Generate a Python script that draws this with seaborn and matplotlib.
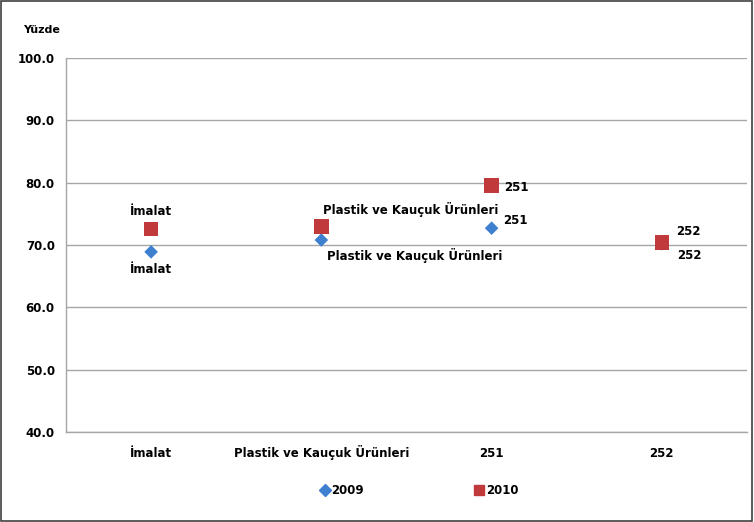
import matplotlib
matplotlib.use("Agg")
import matplotlib.pyplot as plt
from matplotlib.patches import Rectangle
from matplotlib.lines import Line2D
import seaborn as sns
import pandas as pd

categories = ["İmalat", "Plastik ve Kauçuk Ürünleri", "251", "252"]
values_2009 = [68.9, 70.8, 72.7, 70.2]
values_2010 = [72.6, 73.0, 79.5, 70.4]
years = ["2009", "2010"]

df = pd.DataFrame({
    "kategori": categories * 2,
    "deger": values_2009 + values_2010,
    "yil": [years[0]] * 4 + [years[1]] * 4,
})

sns.set_theme(style="white")
plt.rcParams["font.family"] = ["DejaVu Sans"]
plt.rcParams["font.weight"] = "bold"
plt.rcParams["text.color"] = "black"
plt.rcParams["xtick.color"] = "black"
plt.rcParams["ytick.color"] = "black"

fig = plt.figure(figsize=(7.54, 5.22), dpi=100)
ax = fig.add_axes([0.0875, 0.1724, 0.9032, 0.7165])

colors = {"2009": "#3F7FD0", "2010": "#C0393B"}
markers = {"2009": "D", "2010": "s"}
sizes = {"2009": 48, "2010": 110}
for y in years:
    sub = df[df["yil"] == y]
    sns.scatterplot(data=sub, x="kategori", y="deger", ax=ax, color=colors[y],
                    marker=markers[y], s=sizes[y], edgecolor="none", legend=False, zorder=3)

fs = 8.5
ax.set_xlim(-0.5, 3.5)
ax.set_ylim(40, 100)
ax.set_yticks([40, 50, 60, 70, 80, 90, 100])
ax.set_yticklabels([f"{v:.1f}" for v in [40, 50, 60, 70, 80, 90, 100]], fontsize=fs, fontweight="bold")
ax.set_xticks(range(4))
ax.set_xticklabels(categories, fontsize=fs, fontweight="bold")
ax.set_xlabel("")
ax.set_ylabel("")
ax.grid(axis="y", color="#A6A6A6", linewidth=1)
ax.set_axisbelow(True)
for s in ["top", "right"]:
    ax.spines[s].set_visible(False)
for s in ["left", "bottom"]:
    ax.spines[s].set_color("#A6A6A6")
    ax.spines[s].set_linewidth(1)
ax.tick_params(axis="y", length=5, color="#A6A6A6", pad=3, labelcolor="black")
ax.tick_params(axis="x", length=0, pad=18, labelcolor="black")
for lbl in ax.get_xticklabels():
    lbl.set_verticalalignment("baseline")

# data labels 2010
ax.annotate(categories[0], (0, values_2010[0]), xytext=(0, 8), textcoords="offset points",
            ha="center", va="bottom", fontsize=fs, fontweight="bold")
ax.annotate(categories[1], (1, values_2010[1]), xytext=(1, 7), textcoords="offset points",
            ha="left", va="bottom", fontsize=fs, fontweight="bold")
ax.annotate(categories[2], (2, values_2010[2]), xytext=(9, -1), textcoords="offset points",
            ha="left", va="center", fontsize=fs, fontweight="bold")
ax.annotate(categories[3], (3, values_2010[3]), xytext=(10, 3), textcoords="offset points",
            ha="left", va="bottom", fontsize=fs, fontweight="bold")
# data labels 2009
ax.annotate(categories[0], (0, values_2009[0]), xytext=(0, -8), textcoords="offset points",
            ha="center", va="top", fontsize=fs, fontweight="bold")
ax.annotate(categories[1], (1, values_2009[1]), xytext=(4, -6), textcoords="offset points",
            ha="left", va="top", fontsize=fs, fontweight="bold")
ax.annotate(categories[2], (2, values_2009[2]), xytext=(8, 1), textcoords="offset points",
            ha="left", va="bottom", fontsize=fs, fontweight="bold")
ax.annotate(categories[3], (3, values_2009[3]), xytext=(11, -4), textcoords="offset points",
            ha="left", va="top", fontsize=fs, fontweight="bold")

fig.text(42 / 754, 1 - 30 / 522, "Yüzde", fontsize=8, fontweight="bold", ha="center", va="center")

handles = [Line2D([], [], marker="D", color=colors["2009"], linestyle="none", markersize=6),
           Line2D([], [], marker="s", color=colors["2010"], linestyle="none", markersize=7.5)]
fig.legend(handles, years, loc="center", bbox_to_anchor=(0.555, 1 - 491 / 522), ncol=2,
           frameon=False, prop={"size": fs, "weight": "bold"}, columnspacing=9.2,
           handletextpad=0.1, handlelength=1)

fig.add_artist(Rectangle((0.001, 0.001), 0.997, 0.997, transform=fig.transFigure,
                         fill=False, edgecolor="#404040", linewidth=1.2))

fig.savefig("out.png", dpi=100)
